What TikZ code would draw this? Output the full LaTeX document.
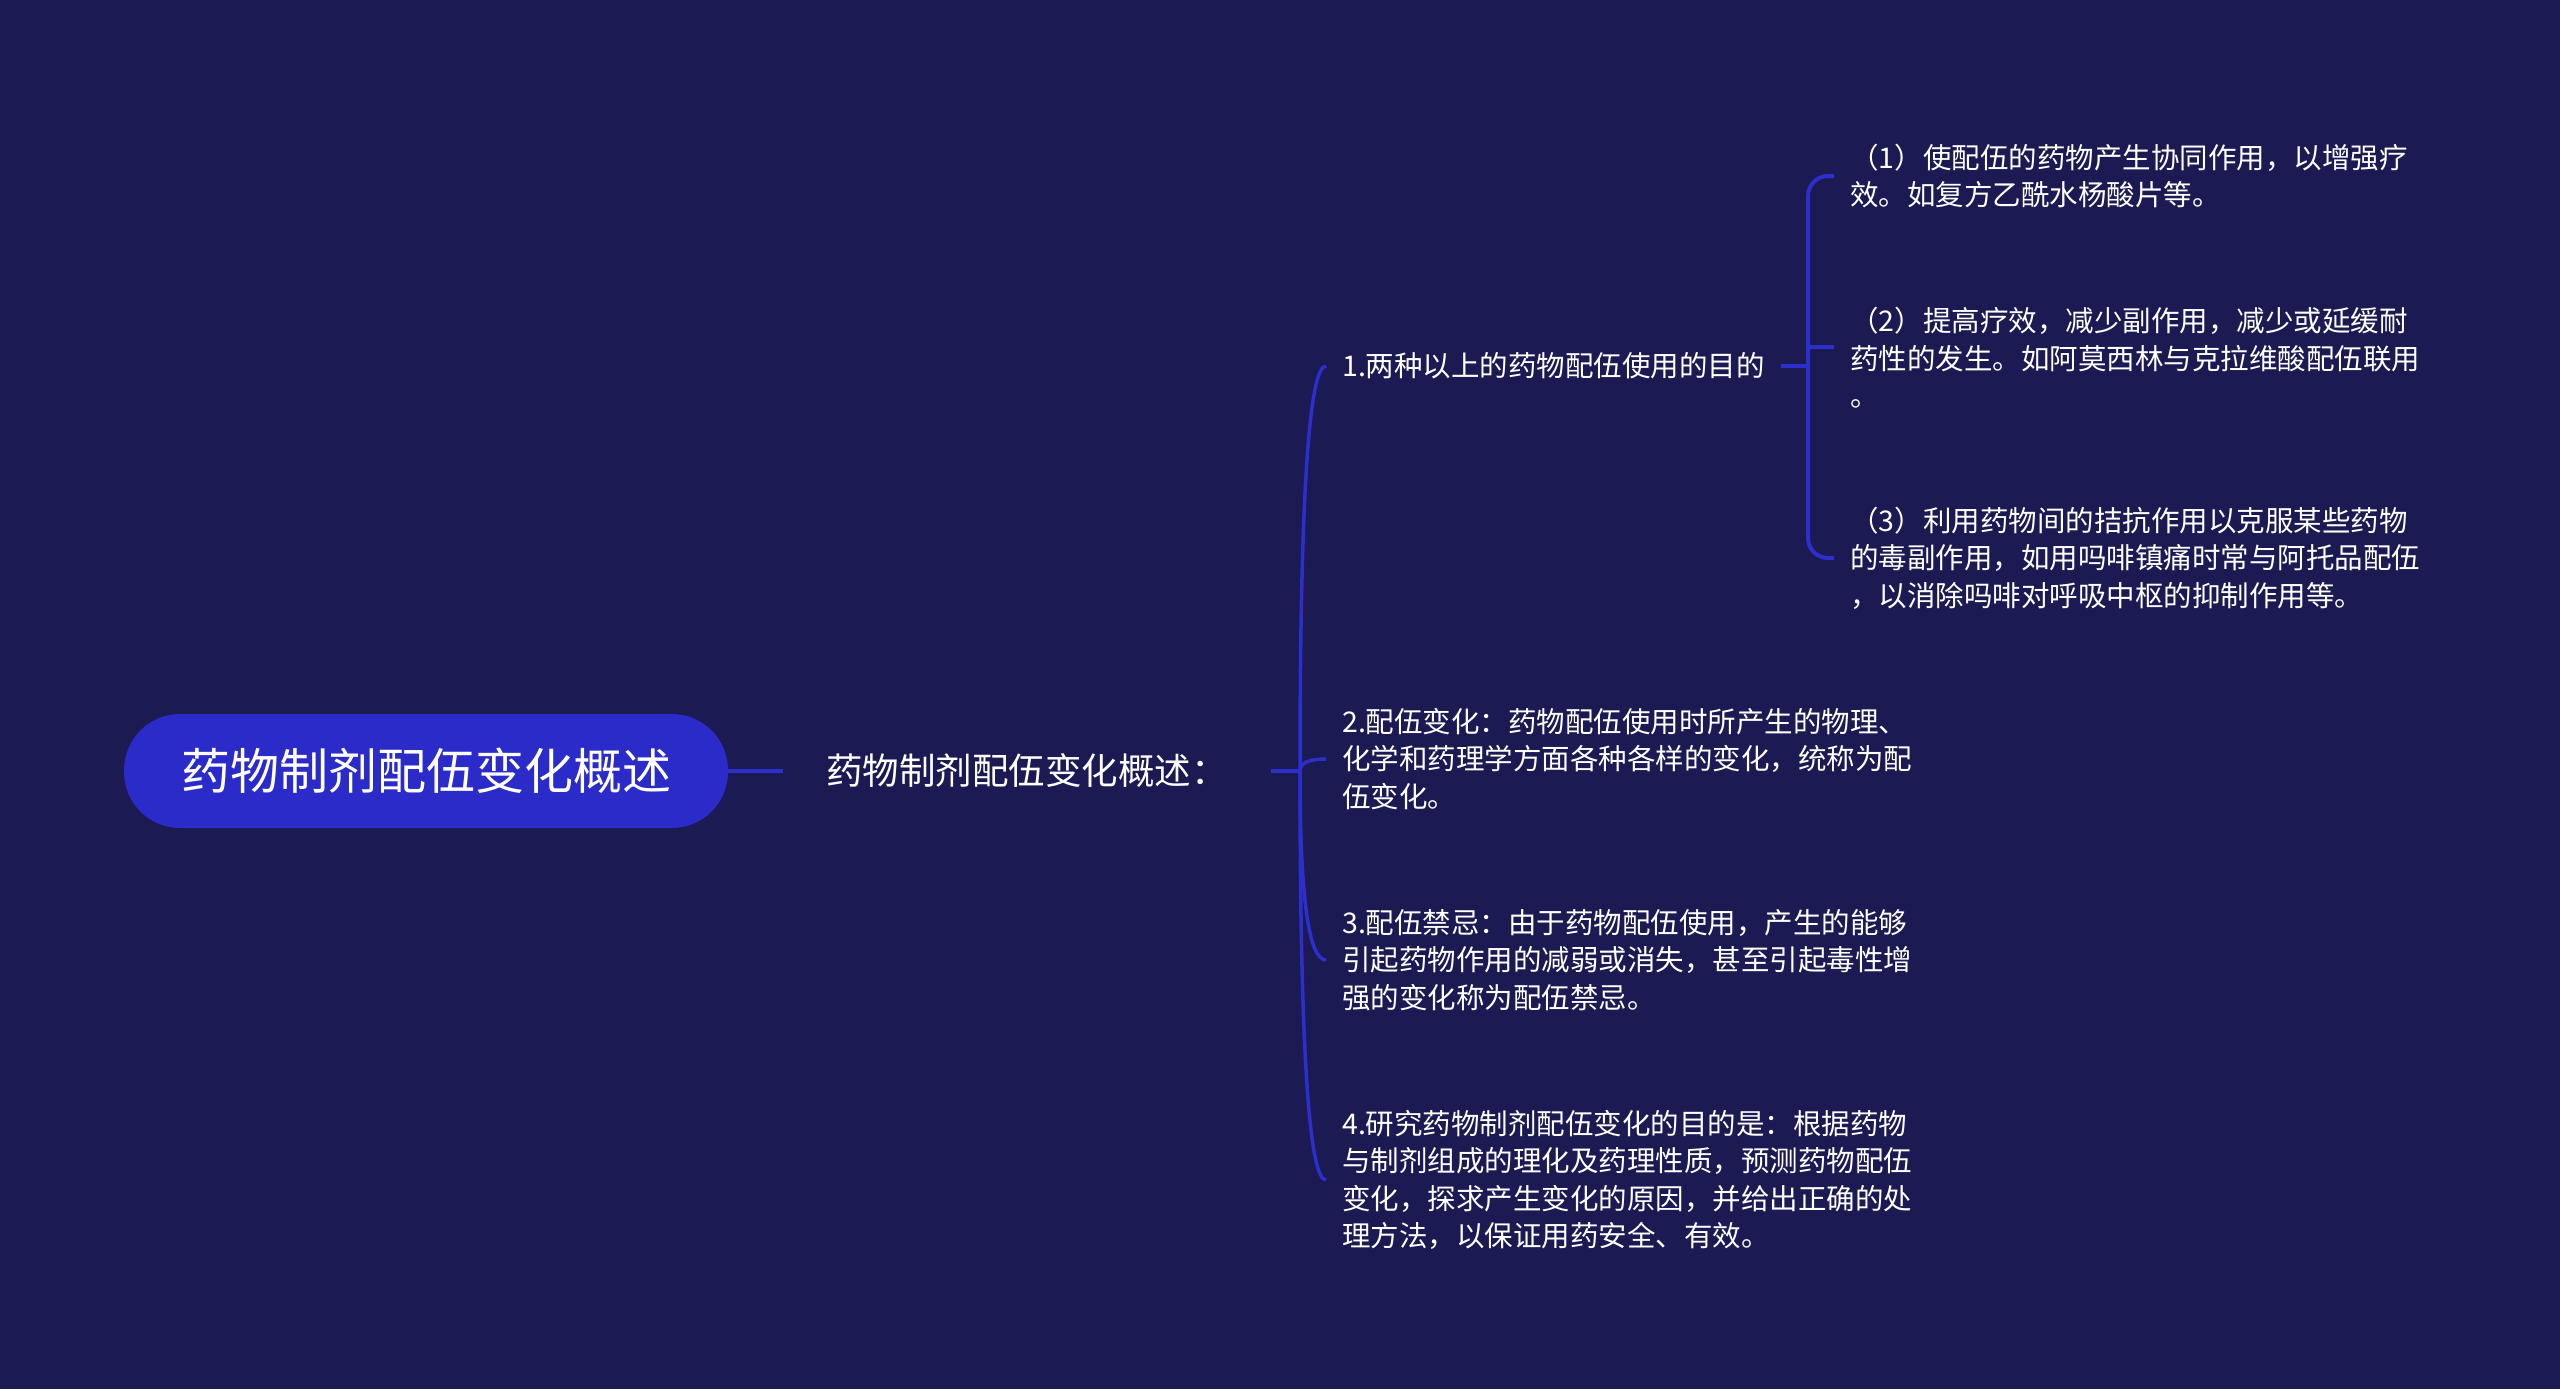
\documentclass[tikz,border=0pt]{standalone}
\usepackage{fontspec}
\setmainfont{Noto Sans CJK SC}
\usetikzlibrary{calc}
\definecolor{bgnavy}{HTML}{1B1A52}
\definecolor{pillblue}{HTML}{2A2BC8}
\definecolor{linkblue}{HTML}{2C2FCB}
\tikzset{
  rootpill/.style={fill=pillblue, text=white, rounded corners=56pt, minimum width=604pt, minimum height=114pt, font=\fontsize{49}{60}\selectfont},
  topic/.style={text=white, anchor=west, inner xsep=43pt, font=\fontsize{36.5}{46}\selectfont},
  leaf/.style={text=white, anchor=west, align=left, inner xsep=16pt, inner ysep=0pt, font=\fontsize{28.5}{37.5}\selectfont},
  link/.style={draw=linkblue, line width=4pt}
}
\begin{document}
\begin{tikzpicture}[x=1pt, y=-1pt]
\fill[bgnavy] (0,0) rectangle (2560,1389);
\useasboundingbox (0,0) rectangle (2560,1389);
\node[rootpill] (root) at (426,771) {药物制剂配伍变化概述};
\node[topic] (over) at (783,771) {药物制剂配伍变化概述：};
\coordinate (j) at (1300,771);
\node[leaf] (a1) at (1326,366) {1.两种以上的药物配伍使用的目的};
\node[leaf] (a2) at (1326,759) {2.配伍变化：药物配伍使用时所产生的物理、\\化学和药理学方面各种各样的变化，统称为配\\伍变化。};
\node[leaf] (a3) at (1326,960) {3.配伍禁忌：由于药物配伍使用，产生的能够\\引起药物作用的减弱或消失，甚至引起毒性增\\强的变化称为配伍禁忌。};
\node[leaf] (a4) at (1326,1180) {4.研究药物制剂配伍变化的目的是：根据药物\\与制剂组成的理化及药理性质，预测药物配伍\\变化，探求产生变化的原因，并给出正确的处\\理方法，以保证用药安全、有效。};
\coordinate (k) at (1808,366);
\node[leaf] (b1) at (1834,176) {（1）使配伍的药物产生协同作用，以增强疗\\效。如复方乙酰水杨酸片等。};
\node[leaf] (b2) at (1834,358) {（2）提高疗效，减少副作用，减少或延缓耐\\药性的发生。如阿莫西林与克拉维酸配伍联用\\。};
\node[leaf] (b3) at (1834,558) {（3）利用药物间的拮抗作用以克服某些药物\\的毒副作用，如用吗啡镇痛时常与阿托品配伍\\，以消除吗啡对呼吸中枢的抑制作用等。};
\coordinate (b2s) at ($(b2.west)+(0,-11)$);
\draw[link] (root.east) -- (over.west);
\draw[link] (over.east) -- (j);
\foreach \n in {a1,a2,a3,a4}
  \draw[link, line width=3.5pt] (j) .. controls ($(j)!0.667!(j |- \n.west)$) and ($(\n.west)!0.667!(j |- \n.west)$) .. (\n.west);
\draw[link] (a1.east) -- (k);
\draw[link, rounded corners=20pt] (k) |- (b1.west);
\draw[link, rounded corners=20pt] (k) |- (b3.west);
\draw[link] (k |- b2s) -- (b2s);
\end{tikzpicture}
\end{document}
